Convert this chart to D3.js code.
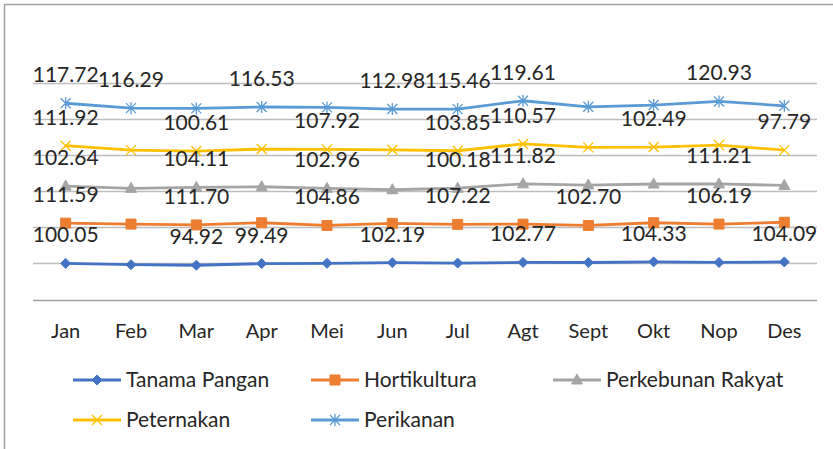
<!DOCTYPE html>
<html>
<head>
<meta charset="utf-8">
<script src="https://cdn.jsdelivr.net/npm/d3@7"></script>
<style>
  body { margin: 0; background: #fff; }
  svg { display: block; font-family: Lato, "Open Sans", sans-serif; }
</style>
</head>
<body>
<svg id="chart" width="833" height="449"></svg>
<script>
// months on the x axis
var months = ["Jan", "Feb", "Mar", "Apr", "Mei", "Jun", "Jul", "Agt", "Sept", "Okt", "Nop", "Des"];

// series values (stacked line chart)
var tanamaPangan = [100.05, 96.5, 94.92, 99.49, 100.3, 102.19, 101.0, 102.77, 102.5, 104.33, 102.8, 104.09];
var hortikultura = [111.59, 112.6, 111.70, 113.2, 104.86, 108.9, 107.22, 106.0, 102.70, 108.4, 106.19, 110.0];
var perkebunan   = [102.64, 98.9, 104.11, 99.8, 102.96, 93.0, 100.18, 111.82, 112.0, 107.3, 111.21, 102.0];
var peternakan   = [111.92, 106.0, 100.61, 104.4, 107.92, 110.8, 103.85, 110.57, 104.4, 102.49, 107.8, 97.79];
var perikanan    = [117.72, 116.29, 118.3, 116.53, 116.4, 112.98, 115.46, 119.61, 112.5, 116.3, 120.93, 123.0];

// which months carry a visible data label
var tanamaShown       = [0, 2, 3, 5, 7, 9, 11];
var hortikulturaShown = [0, 2, 4, 6, 8, 10];
var perkebunanShown   = [0, 2, 4, 6, 7, 10];
var peternakanShown   = [0, 2, 4, 6, 7, 9, 11];
var perikananShown    = [0, 1, 3, 5, 6, 7, 10];

var seriesNames = ["Tanama Pangan", "Hortikultura", "Perkebunan Rakyat", "Peternakan", "Perikanan"];
var yTicks = [0, 100, 200, 300, 400, 500, 600];

var series = [
  {name: seriesNames[0], values: tanamaPangan, shown: tanamaShown, color: "#4472C4", marker: "diamond"},
  {name: seriesNames[1], values: hortikultura, shown: hortikulturaShown, color: "#ED7D31", marker: "square"},
  {name: seriesNames[2], values: perkebunan, shown: perkebunanShown, color: "#A5A5A5", marker: "triangle"},
  {name: seriesNames[3], values: peternakan, shown: peternakanShown, color: "#FFC000", marker: "x"},
  {name: seriesNames[4], values: perikanan, shown: perikananShown, color: "#5B9BD5", marker: "star"}
];

// running totals for the stacking
var running = months.map(function(){ return 0; });
series.forEach(function(s){
  s.cum = s.values.map(function(v, i){ running[i] += v; return running[i]; });
});

var svg = d3.select("#chart");

// chart border
svg.append("rect")
  .attr("x", 4.5).attr("y", 4.5)
  .attr("width", 860).attr("height", 480)
  .attr("fill", "none")
  .attr("stroke", "#a0a0a0")
  .attr("stroke-width", 1.5);

var plot = {left: 33, right: 817, top: 83, bottom: 299.5};

var x = d3.scaleBand()
  .domain(months)
  .range([plot.left, plot.right]);

var y = d3.scaleLinear()
  .domain([0, 600])
  .range([plot.bottom, plot.top]);

// gridlines
svg.append("g")
  .selectAll("line")
  .data(yTicks)
  .enter().append("line")
    .attr("x1", plot.left).attr("x2", plot.right)
    .attr("y1", function(d){ return Math.round(y(d)) + 0.5; })
    .attr("y2", function(d){ return Math.round(y(d)) + 0.5; })
    .attr("stroke", function(d){ return d === 0 ? "#a0a0a0" : "#bdbdbd"; })
    .attr("stroke-width", 1.3);

// x axis labels
var xAxis = svg.append("g")
  .attr("transform", "translate(0," + (plot.bottom + 38) + ")")
  .call(d3.axisBottom(x).tickSize(0).tickPadding(0));
xAxis.select(".domain").remove();
xAxis.selectAll("text")
  .attr("dy", 0)
  .attr("y", 0)
  .attr("font-size", 20)
  .attr("font-family", "Lato, sans-serif")
  .attr("fill", "#262626");

function cx(i){ return x(months[i]) + x.bandwidth() / 2; }

function markerPath(type, size){
  var h = size / 2;
  if (type === "diamond") return "M0," + (-h) + "L" + h + ",0L0," + h + "L" + (-h) + ",0Z";
  if (type === "square") return "M" + (-h) + "," + (-h) + "h" + size + "v" + size + "h" + (-size) + "Z";
  if (type === "triangle") return "M0," + (-h - 1) + "L" + (h + 0.5) + "," + (h - 1) + "L" + (-h - 0.5) + "," + (h - 1) + "Z";
  if (type === "x") return "M" + (-h) + "," + (-h) + "L" + h + "," + h + "M" + h + "," + (-h) + "L" + (-h) + "," + h;
  // asterisk
  return "M" + (-h) + "," + (-h) + "L" + h + "," + h + "M" + h + "," + (-h) + "L" + (-h) + "," + h +
         "M0," + (-h - 1) + "L0," + (h + 1);
}

function drawMarker(g, type, color){
  var open = (type === "x" || type === "star");
  g.append("path")
    .attr("d", markerPath(type, 10))
    .attr("fill", open ? "none" : color)
    .attr("stroke", color)
    .attr("stroke-width", open ? 1.3 : 1);
}

var line = d3.line()
  .x(function(d, i){ return cx(i); })
  .y(function(d){ return y(d); });

series.forEach(function(s){
  svg.append("path")
    .datum(s.cum)
    .attr("d", line)
    .attr("fill", "none")
    .attr("stroke", s.color)
    .attr("stroke-width", 2.8)
    .attr("stroke-linejoin", "round");

  s.cum.forEach(function(v, i){
    var g = svg.append("g").attr("transform", "translate(" + cx(i) + "," + y(v) + ")");
    drawMarker(g, s.marker, s.color);
  });
});

// data labels on top
series.forEach(function(s){
  svg.append("g")
    .selectAll("text")
    .data(s.shown)
    .enter().append("text")
      .attr("x", function(i){ return cx(i); })
      .attr("y", function(i){ return y(s.cum[i]) - 21; })
      .attr("text-anchor", "middle")
      .attr("font-size", 21)
      .attr("fill", "#262626")
      .text(function(i){ return s.values[i].toFixed(2); });
});

// legend
var legendPos = [[73, 380], [311, 380], [553, 380], [73, 420], [311, 420]];
series.forEach(function(s, k){
  var lg = svg.append("g").attr("transform", "translate(" + legendPos[k][0] + "," + legendPos[k][1] + ")");
  lg.append("line")
    .attr("x1", 0).attr("x2", 48)
    .attr("stroke", s.color)
    .attr("stroke-width", 2.8);
  drawMarker(lg.append("g").attr("transform", "translate(24,0)"), s.marker, s.color);
  lg.append("text")
    .attr("x", 53)
    .attr("y", 7)
    .attr("font-size", 21)
    .attr("fill", "#262626")
    .text(s.name);
});
</script>
</body>
</html>
